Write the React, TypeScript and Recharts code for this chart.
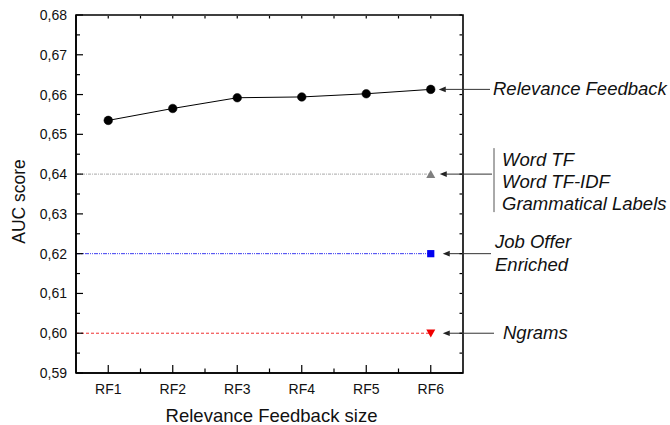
import React from 'react';
import { ComposedChart, Line, Scatter, XAxis, YAxis, ReferenceLine, ReferenceArea } from 'recharts';

const categories = ['RF1', 'RF2', 'RF3', 'RF4', 'RF5', 'RF6'];
const categoryPositions = [1, 2, 3, 4, 5, 6];
const relevanceFeedback = [0.6535, 0.6565, 0.6592, 0.6594, 0.6602, 0.6613];
const wordTF = 0.64;
const jobOfferEnriched = 0.62;
const ngrams = 0.6;

const yMajorTicks = [0.59, 0.6, 0.61, 0.62, 0.63, 0.64, 0.65, 0.66, 0.67, 0.68];
const yTickLabels = ['0,59', '0,60', '0,61', '0,62', '0,63', '0,64', '0,65', '0,66', '0,67', '0,68'];
const yMinorTicks = [0.595, 0.605, 0.615, 0.625, 0.635, 0.645, 0.655, 0.665, 0.675];
const xMinorTicks = [1.5, 2.5, 3.5, 4.5, 5.5];

const FONT = "Arial, 'Liberation Sans', sans-serif";
const X_DOMAIN: [number, number] = [0.5, 6.5];
const Y_DOMAIN: [number, number] = [0.59, 0.68];

const rfData = categoryPositions.map((x, i) => ({ x, y: relevanceFeedback[i] }));
const lastX = categoryPositions[categoryPositions.length - 1];
const tfMarker = [{ x: lastX, y: wordTF }];
const jobMarker = [{ x: lastX, y: jobOfferEnriched }];
const ngramMarker = [{ x: lastX, y: ngrams }];

const allXTicks = [...categoryPositions, ...xMinorTicks].sort((a, b) => a - b);
const allYTicks = [...yMajorTicks, ...yMinorTicks].sort((a, b) => a - b);

const majorY = (v: number) => yMajorTicks.findIndex((t) => Math.abs(t - v) < 1e-6);
const majorX = (v: number) => categoryPositions.findIndex((t) => Math.abs(t - v) < 1e-6);

const LeftTick = (props: any) => {
  const { x, y, payload } = props;
  const idx = majorY(payload.value);
  const major = idx >= 0;
  return (
    <g>
      <line x1={x} y1={y} x2={x + (major ? 7 : 4)} y2={y} stroke="#000" strokeWidth={1.2} />
      {major && (
        <text x={x - 9} y={y} textAnchor="end" dominantBaseline="central" fontSize={14} fontFamily={FONT} fill="#111">
          {yTickLabels[idx]}
        </text>
      )}
    </g>
  );
};

const RightTick = (props: any) => {
  const { x, y } = props;
  return <line x1={x - 1} y1={y} x2={x - 3.5} y2={y} stroke="#000" strokeWidth={1.2} />;
};

const BottomTick = (props: any) => {
  const { x, y, payload } = props;
  const idx = majorX(payload.value);
  const major = idx >= 0;
  return (
    <g>
      <line x1={x} y1={y} x2={x} y2={y - (major ? 8 : 4.5)} stroke="#000" strokeWidth={1.2} />
      {major && (
        <text x={x} y={y + 20.5} textAnchor="middle" fontSize={14} fontFamily={FONT} fill="#111">
          {categories[idx]}
        </text>
      )}
    </g>
  );
};

const TopTick = (props: any) => {
  const { x, y } = props;
  return <line x1={x} y1={y + 1} x2={x} y2={y + 3.5} stroke="#000" strokeWidth={1.2} />;
};

const TriangleUp = (color: string) => (props: any) => {
  const { cx, cy } = props;
  return <polygon points={`${cx - 4.5},${cy + 3.8} ${cx + 4.5},${cy + 3.8} ${cx},${cy - 4.2}`} fill={color} />;
};
const TriangleDown = (color: string) => (props: any) => {
  const { cx, cy } = props;
  return <polygon points={`${cx - 4.5},${cy - 3.8} ${cx + 4.5},${cy - 3.8} ${cx},${cy + 4.2}`} fill={color} />;
};
const Square = (color: string) => (props: any) => {
  const { cx, cy } = props;
  return <rect x={cx - 3.6} y={cy - 3.6} width={7.2} height={7.2} fill={color} />;
};

type AnnOpts = {
  lines: string[];
  tipOffset: number;
  endOffset: number;
  textOffset: number;
  baselines: number[];
  bar?: [number, number];
};

const Annotation = (opts: AnnOpts) => (props: any) => {
  const { x1, x2, y1 } = props;
  const y = y1;
  const tip = x1 + opts.tipOffset;
  const end = x2 + opts.endOffset;
  const tx = x2 + opts.textOffset;
  return (
    <g>
      <polygon points={`${tip},${y} ${tip + 7},${y - 2.8} ${tip + 7},${y + 2.8}`} fill="#222" />
      <line x1={tip + 5} y1={y} x2={end} y2={y} stroke="#333" strokeWidth={1} />
      {opts.bar && (
        <line x1={end + 2} y1={y + opts.bar[0]} x2={end + 2} y2={y + opts.bar[1]} stroke="#555" strokeWidth={1} />
      )}
      {opts.lines.map((t, i) => (
        <text key={i} x={tx} y={y + opts.baselines[i]} fontSize={18.5} fontStyle="italic" fontFamily={FONT} fill="#111">
          {t}
        </text>
      ))}
    </g>
  );
};

const XTitle = (props: any) => {
  const vb = props.viewBox || { x: 76, y: 373, width: 387, height: 52 };
  return (
    <text x={vb.x + vb.width / 2 + 2} y={vb.y + 49} textAnchor="middle" fontSize={18.5} fontFamily={FONT} fill="#111">
      Relevance Feedback size
    </text>
  );
};

const YTitle = (props: any) => {
  const vb = props.viewBox || { x: 16, y: 15, width: 60, height: 358 };
  const cx = vb.x + 2.5;
  const cy = vb.y + vb.height / 2 + 7.5;
  return (
    <text
      x={cx}
      y={cy}
      transform={`rotate(-90, ${cx}, ${cy})`}
      textAnchor="middle"
      dominantBaseline="central"
      fontSize={17.5}
      fontFamily={FONT}
      fill="#111"
    >
      AUC score
    </text>
  );
};

export default function App() {
  return (
    <div style={{ position: 'absolute', left: 0, top: 0, width: 670, height: 425, background: '#fff' }}>
      <ComposedChart width={670} height={425} margin={{ top: 14, right: 206, bottom: 0, left: 16 }}>
        <XAxis
          dataKey="x"
          type="number"
          domain={X_DOMAIN}
          allowDataOverflow
          ticks={allXTicks}
          interval={0}
          tick={<BottomTick />}
          tickLine={false}
          tickSize={0}
          tickMargin={0}
          height={52}
          axisLine={{ stroke: '#000', strokeWidth: 1.6 }}
          label={XTitle}
        />
        <XAxis
          xAxisId="top"
          orientation="top"
          dataKey="x"
          type="number"
          domain={X_DOMAIN}
          allowDataOverflow
          ticks={allXTicks}
          interval={0}
          tick={<TopTick />}
          tickLine={false}
          tickSize={0}
          tickMargin={0}
          height={1}
          axisLine={false}
        />
        <YAxis
          type="number"
          domain={Y_DOMAIN}
          allowDataOverflow
          ticks={allYTicks}
          interval={0}
          tick={<LeftTick />}
          tickLine={false}
          tickSize={0}
          tickMargin={0}
          width={60}
          axisLine={{ stroke: '#000', strokeWidth: 1.6 }}
          label={YTitle}
        />
        <YAxis
          yAxisId="right"
          orientation="right"
          type="number"
          domain={Y_DOMAIN}
          allowDataOverflow
          ticks={allYTicks}
          interval={0}
          tick={<RightTick />}
          tickLine={false}
          tickSize={0}
          tickMargin={0}
          width={1}
          axisLine={false}
        />

        <ReferenceArea
          x1={X_DOMAIN[0]}
          x2={X_DOMAIN[1]}
          y1={Y_DOMAIN[0]}
          y2={Y_DOMAIN[1]}
          fill="none"
          fillOpacity={0}
          stroke="#000"
          strokeWidth={1.6}
          ifOverflow="visible"
        />

        <ReferenceLine
          segment={[{ x: X_DOMAIN[0], y: wordTF }, { x: lastX, y: wordTF }]}
          stroke="#a8a8a8"
          strokeWidth={1}
          strokeDasharray="3 1 1 1"
          ifOverflow="visible"
        />
        <ReferenceLine
          segment={[{ x: X_DOMAIN[0], y: jobOfferEnriched }, { x: lastX, y: jobOfferEnriched }]}
          stroke="#3c3cf0"
          strokeWidth={1}
          strokeDasharray="4 1 1 1 1 1"
          ifOverflow="visible"
        />
        <ReferenceLine
          segment={[{ x: X_DOMAIN[0], y: ngrams }, { x: lastX, y: ngrams }]}
          stroke="#f03030"
          strokeWidth={1}
          strokeDasharray="3 2"
          ifOverflow="visible"
        />

        <Line
          xAxisId="top"
          yAxisId="right"
          data={rfData}
          dataKey="y"
          stroke="none"
          dot={false}
          activeDot={false}
          legendType="none"
          isAnimationActive={false}
        />
        <Line
          data={rfData}
          dataKey="y"
          stroke="#000"
          strokeWidth={1}
          dot={{ r: 4.3, fill: '#000', stroke: '#000', strokeWidth: 0.5 }}
          activeDot={false}
          isAnimationActive={false}
        />
        <Scatter data={tfMarker} dataKey="y" shape={TriangleUp('#7f7f7f')} isAnimationActive={false} />
        <Scatter data={jobMarker} dataKey="y" shape={Square('#0000f0')} isAnimationActive={false} />
        <Scatter data={ngramMarker} dataKey="y" shape={TriangleDown('#f00000')} isAnimationActive={false} />

        <ReferenceLine
          segment={[{ x: lastX, y: relevanceFeedback[5] }, { x: X_DOMAIN[1], y: relevanceFeedback[5] }]}
          ifOverflow="visible"
          shape={Annotation({
            lines: ['Relevance Feedback'],
            tipOffset: 8,
            endOffset: 27,
            textOffset: 30,
            baselines: [6],
          })}
        />
        <ReferenceLine
          segment={[{ x: lastX, y: wordTF }, { x: X_DOMAIN[1], y: wordTF }]}
          ifOverflow="visible"
          shape={Annotation({
            lines: ['Word TF', 'Word TF-IDF', 'Grammatical Labels'],
            tipOffset: 9,
            endOffset: 29,
            textOffset: 39,
            baselines: [-8, 14, 36],
            bar: [-26, 38],
          })}
        />
        <ReferenceLine
          segment={[{ x: lastX, y: jobOfferEnriched }, { x: X_DOMAIN[1], y: jobOfferEnriched }]}
          ifOverflow="visible"
          shape={Annotation({
            lines: ['Job Offer', 'Enriched'],
            tipOffset: 12,
            endOffset: 28,
            textOffset: 32,
            baselines: [-5.5, 17],
          })}
        />
        <ReferenceLine
          segment={[{ x: lastX, y: ngrams }, { x: X_DOMAIN[1], y: ngrams }]}
          ifOverflow="visible"
          shape={Annotation({
            lines: ['Ngrams'],
            tipOffset: 12,
            endOffset: 31,
            textOffset: 40,
            baselines: [6],
          })}
        />
      </ComposedChart>
    </div>
  );
}
